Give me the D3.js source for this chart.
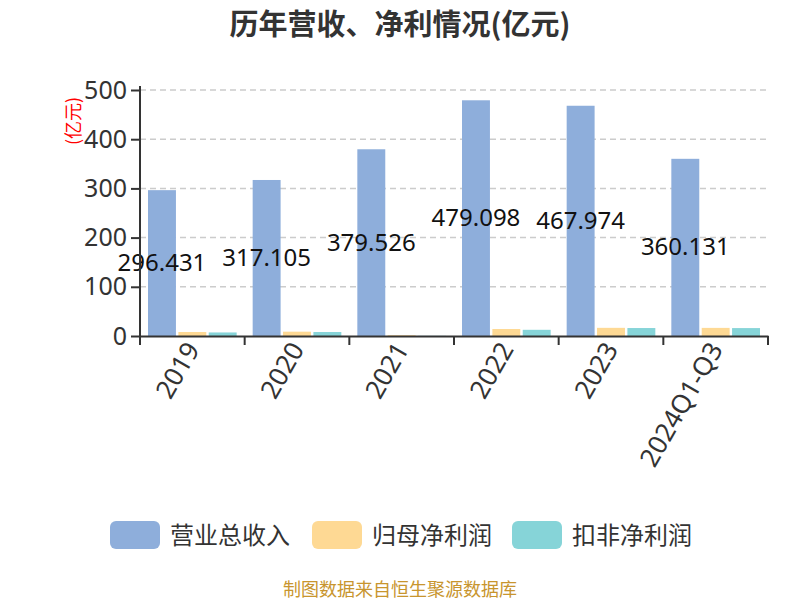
<!DOCTYPE html>
<html><head><meta charset="utf-8">
<script src="https://cdn.jsdelivr.net/npm/d3@7"></script>
<style>body{margin:0;background:#fff;} svg{font-family:"Noto Sans CJK SC","Noto Sans",sans-serif;}</style>
</head><body>
<svg id="c" width="800" height="600"></svg>
<script>
const categories = ["2019","2020","2021","2022","2023","2024Q1-Q3"];
const seriesNames = ["营业总收入","归母净利润","扣非净利润"];
const revenue = [296.431,317.105,379.526,479.098,467.974,360.131];
const netProfit = [8.1,8.8,1.5,14.2,16.6,16.5];
const deductedProfit = [7.2,8.1,0.3,12.6,16.2,16.1];
const yTicks = [0,100,200,300,400,500];
const colors = ["#8eaedb","#fed994","#86d4d8"];

const svg = d3.select("#c");
const L=140,R=768,T=90,B=336;
const x0 = d3.scaleBand().domain(categories).range([L,R]).paddingInner(0).paddingOuter(0);
const x1 = d3.scaleBand().domain([0,1,2]).range([8,x0.bandwidth()-8]).paddingInner(0.08);
const y = d3.scaleLinear().domain([0,500]).range([B,T]);

// title
svg.append("text").attr("x",400).attr("y",35).attr("text-anchor","middle")
  .attr("font-size",29).attr("font-weight","bold").attr("fill","#333").text("历年营收、净利情况(亿元)");

// grid
svg.append("g").selectAll("line").data(yTicks.filter(d=>d>0)).join("line")
  .attr("x1",L).attr("x2",R).attr("y1",d=>y(d)).attr("y2",d=>y(d))
  .attr("stroke","#ccc").attr("stroke-dasharray","6,4").attr("stroke-width",1.5);

// bars
const data = [revenue,netProfit,deductedProfit];
const g = svg.append("g");
categories.forEach((c,i)=>{
  data.forEach((s,j)=>{
    g.append("rect").attr("x",x0(c)+x1(j)).attr("width",x1.bandwidth())
      .attr("y",y(s[i])).attr("height",B-y(s[i])).attr("fill",colors[j]);
  });
});

// labels
svg.append("g").selectAll("text").data(categories).join("text")
  .attr("x",(c,i)=>x0(c)+x1(0)+x1.bandwidth()/2)
  .attr("y",(c,i)=>(y(revenue[i])+B)/2+8)
  .attr("text-anchor","middle").attr("font-size",24).attr("fill","#111")
  .attr("font-family","'Noto Sans',sans-serif")
  .text((c,i)=>revenue[i].toFixed(3));

// y axis
const ya = svg.append("g").attr("transform",`translate(${L},0)`)
  .call(d3.axisLeft(y).tickValues(yTicks).tickSize(9).tickPadding(4));
ya.select(".domain").attr("stroke","#333").attr("stroke-width",2).attr("d",`M0,${T-4}V${B}`);
ya.selectAll(".tick line").attr("stroke","#333").attr("stroke-width",2);
ya.selectAll(".tick text").attr("font-size",25).attr("fill","#333").attr("font-family","'Noto Sans',sans-serif");

// x axis
const xa = svg.append("g").attr("transform",`translate(0,${B})`)
  .call(d3.axisBottom(x0).tickSize(0).tickPadding(0));
xa.select(".domain").attr("stroke","#333").attr("stroke-width",2);
xa.selectAll(".tick text").attr("font-size",26).attr("fill","#333").attr("font-family","'Noto Sans',sans-serif")
  .attr("text-anchor","end").attr("dy",0)
  .attr("transform","translate(8,13) rotate(-60)");
const bounds = categories.map(c=>x0(c)).concat([R]);
svg.append("g").selectAll("line").data(bounds).join("line")
  .attr("x1",d=>d).attr("x2",d=>d).attr("y1",B).attr("y2",B+9)
  .attr("stroke","#333").attr("stroke-width",2);

// y axis unit
svg.append("text").attr("transform","translate(80,121) rotate(-90)")
  .attr("text-anchor","middle").attr("font-size",18).attr("fill","red").text("(亿元)");

// legend
const lg = svg.append("g");
const lx = [110,312,512];
seriesNames.forEach((n,i)=>{
  lg.append("rect").attr("x",lx[i]).attr("y",521).attr("width",50).attr("height",28).attr("rx",6).attr("fill",colors[i]);
  lg.append("text").attr("x",lx[i]+60).attr("y",544).attr("font-size",24).attr("fill","#333").text(n);
});

svg.append("text").attr("x",400).attr("y",596).attr("text-anchor","middle")
  .attr("font-size",18).attr("fill","#c8952e").text("制图数据来自恒生聚源数据库");
</script>
</body></html>
